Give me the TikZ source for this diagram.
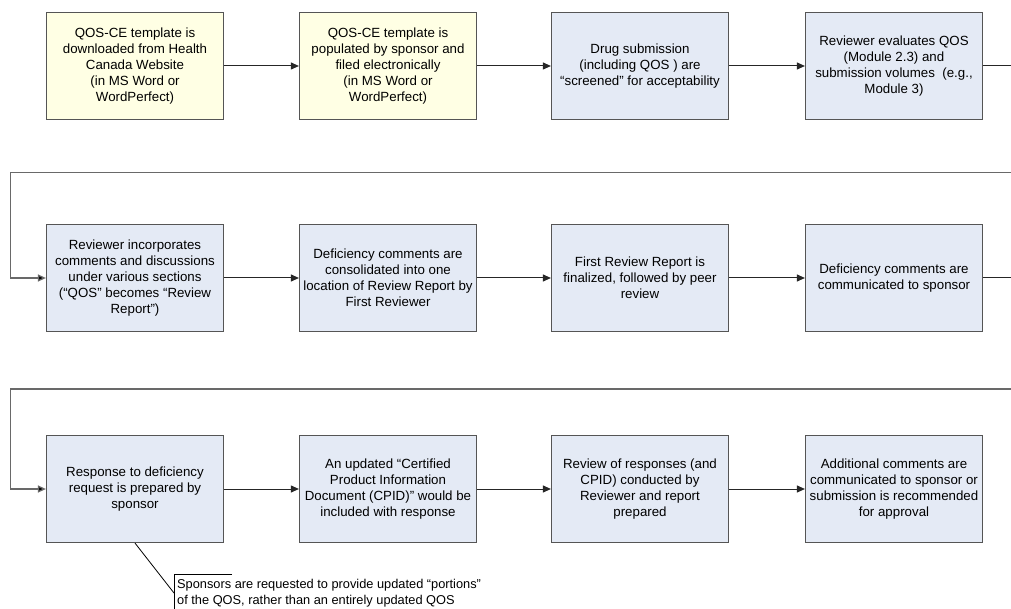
\documentclass[tikz,border=0pt]{standalone}
\usepackage{fontspec}
\setmainfont{Liberation Sans}
\usetikzlibrary{arrows.meta}
\definecolor{noteyellow}{RGB}{255,255,228}
\definecolor{stepblue}{RGB}{228,234,245}
\definecolor{boxedge}{RGB}{85,85,85}
\definecolor{loopgray}{RGB}{105,105,105}
\begin{document}
\begin{tikzpicture}[x=1pt,y=-1pt,
  txt/.style={font=\fontsize{13.3}{16}\selectfont},
  notetxt/.style={font=\fontsize{12.8}{16}\selectfont},
  stepbox/.style={txt, draw=boxedge, line width=1.2pt, fill=stepblue,
    minimum width=177pt, minimum height=107pt, align=center, inner sep=1pt},
  startbox/.style={stepbox, fill=noteyellow},
  flow/.style={line width=1pt, draw=black!85, -{Triangle[length=8pt,width=7pt]}},
  exit/.style={line width=1pt, draw=black!85},
  loopline/.style={line width=1.3pt, draw=loopgray, -{Triangle[length=8pt,width=7pt,fill=black]}},
  callout/.style={line width=0.8pt, draw=black}]
\clip (0,0) rectangle (1011,609);
\fill[white] (0,0) rectangle (1011,609);

% first row
\node[startbox] (r1c1) at (135,66) {QOS-CE template is\\downloaded from Health\\Canada Website\\(in MS Word or\\WordPerfect)};
\node[startbox] (r1c2) at (388,66) {QOS-CE template is\\populated by sponsor and\\filed electronically\\(in MS Word or\\WordPerfect)};
\node[stepbox] (r1c3) at (640,66) {Drug submission\\(including QOS ) are\\“screened” for acceptability};
\node[stepbox] (r1c4) at (894,66) {Reviewer evaluates QOS\\(Module 2.3) and\\submission volumes~ (e.g.,\\Module 3)};

% second row
\node[stepbox] (r2c1) at (135,278) {Reviewer incorporates\\comments and discussions\\under various sections\\(“QOS” becomes “Review\\Report”)};
\node[stepbox] (r2c2) at (388,278) {Deficiency comments are\\consolidated into one\\location of Review Report by\\First Reviewer};
\node[stepbox] (r2c3) at (640,278) {First Review Report is\\finalized, followed by peer\\review};
\node[stepbox] (r2c4) at (894,278) {Deficiency comments are\\communicated to sponsor};

% third row
\node[stepbox] (r3c1) at (135,489) {Response to deficiency\\request is prepared by\\sponsor};
\node[stepbox] (r3c2) at (388,489) {An updated “Certified\\Product Information\\Document (CPID)” would be\\included with response};
\node[stepbox] (r3c3) at (640,489) {Review of responses (and\\CPID) conducted by\\Reviewer and report\\prepared};
\node[stepbox] (r3c4) at (894,489) {Additional comments are\\communicated to sponsor or\\submission is recommended\\for approval};

% arrows within rows
\draw[flow] (r1c1) -- (r1c2);
\draw[flow] (r1c2) -- (r1c3);
\draw[flow] (r1c3) -- (r1c4);
\draw[flow] (r2c1) -- (r2c2);
\draw[flow] (r2c2) -- (r2c3);
\draw[flow] (r2c3) -- (r2c4);
\draw[flow] (r3c1) -- (r3c2);
\draw[flow] (r3c2) -- (r3c3);
\draw[flow] (r3c3) -- (r3c4);

% row wrap-around connectors
\coordinate (o1) at (1025,66);
\coordinate (k1) at (10.7,172.3);
\coordinate (o2) at (1025,278);
\coordinate (k2) at (10.7,389);
\draw[exit] (r1c4.east) -- (o1);
\draw[loopline] (o1) |- (k1) |- (r2c1.west);
\draw[exit] (r2c4.east) -- (o2);
\draw[loopline] (o2) |- (k2) |- (r3c1.west);

% annotation
\coordinate (cb) at (174,593);
\coordinate (ct) at (174,574.5);
\coordinate (ce) at (232,574.5);
\coordinate (cl) at (174,620);
\draw[callout] (r3c1.south) -- (cb);
\draw[callout] (ce) -- (ct) -- (cl);
\node[notetxt, anchor=north west, align=left, inner sep=0pt] (note) at (177,579)
  {Sponsors are requested to provide updated “portions”\\of the QOS, rather than an entirely updated QOS};
\end{tikzpicture}
\end{document}
